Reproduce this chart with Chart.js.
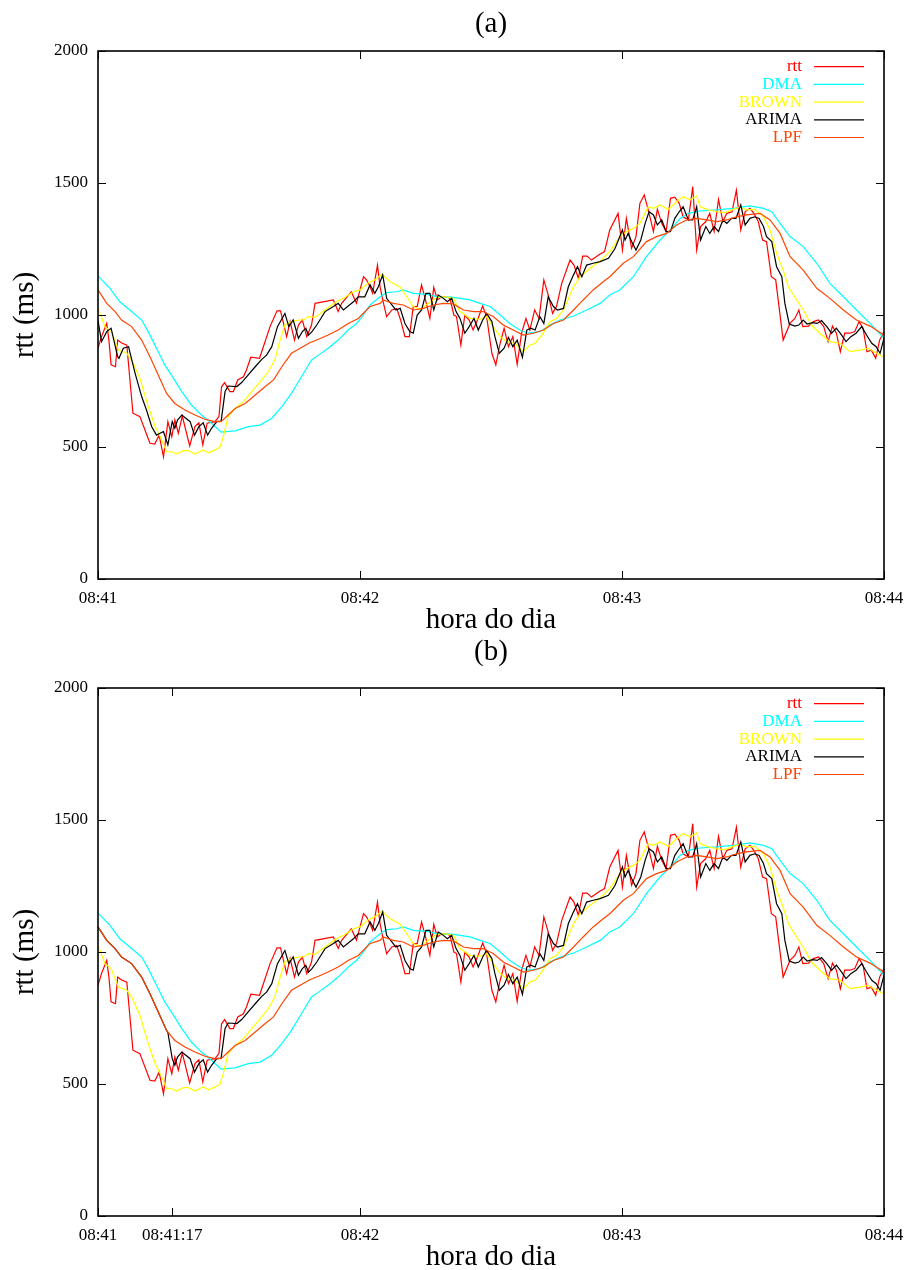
<!DOCTYPE html>
<html>
<head>
<meta charset="utf-8">
<script src="https://cdn.jsdelivr.net/npm/chart.js@4.4.1/dist/chart.umd.min.js"></script>
<style>
html, body { margin: 0; padding: 0; background: #fff; }
canvas { display: block; }
</style>
</head>
<body>
<canvas id="chartA" width="909" height="637"></canvas>
<canvas id="chartB" width="909" height="633"></canvas>
<script>
// seconds after 08:41:00 -> rtt in ms
const rttSeries = [[0,874],[0.8,918],[2,968],[2.5,905],[3,811],[4,804],[4.5,905],[5.4,894],[6.6,886],[8,628],[9.6,615],[11.9,514],[13,511],[14,545],[15,463],[16,596],[16.9,539],[17.6,602],[18.4,552],[19.3,617],[21,504],[22.2,577],[23.1,592],[24,508],[25,590],[26.8,596],[27.7,615],[28.3,728],[29,744],[30.2,710],[31,710],[32,754],[33.3,766],[34,792],[35,840],[37,836],[39.4,956],[41,1016],[41.8,1016],[43.2,918],[44,975],[45,905],[45.9,962],[46.8,981],[47.8,918],[48.9,962],[49.7,1044],[53.9,1057],[55,1013],[55.8,1044],[58,1088],[59.2,1045],[60.8,1145],[61.5,1133],[62.3,1107],[62.9,1082],[64,1189],[64.6,1107],[65.2,1057],[66.1,994],[67.3,1019],[68.4,1025],[69.3,981],[70.3,918],[71.3,918],[72.2,1032],[73.1,1032],[74.1,1114],[75,1057],[76,987],[76.9,1105],[77.7,1057],[78.7,1069],[79.7,1069],[80.6,1063],[81.5,1000],[82.1,994],[83.1,886],[84,1000],[85,981],[85.9,943],[86.9,981],[88.1,1034],[89,994],[90.2,855],[91.1,811],[92,886],[93,950],[94,880],[95,918],[96,813],[97,931],[98,987],[98.9,943],[100,1019],[101,987],[102.1,1133],[103.1,1076],[104.1,1006],[105,1032],[106.2,1120],[108.1,1208],[109,1189],[110,1139],[111,1223],[112,1223],[113,1208],[115,1231],[116,1240],[117.2,1322],[119.1,1385],[120.1,1246],[121,1366],[122.2,1253],[123.2,1297],[124.1,1423],[125.1,1455],[126.2,1385],[127.2,1316],[128.1,1400],[129.1,1347],[130.1,1316],[131.1,1442],[132.1,1446],[133.1,1423],[134,1372],[135.2,1360],[136.2,1486],[137.1,1246],[138,1335],[139.2,1354],[140.1,1385],[141.1,1316],[142.1,1438],[143.1,1354],[144,1385],[145.2,1391],[146.2,1473],[147.2,1322],[148.2,1391],[149.3,1404],[150.2,1385],[151.2,1354],[152.2,1284],[153.1,1278],[154.2,1145],[155.2,1133],[156.9,905],[158.5,969],[159.6,987],[160.5,1019],[161.4,956],[162.7,958],[163.8,975],[165,981],[166.2,956],[167.2,899],[168.2,958],[169.1,931],[170,861],[171,931],[172.2,931],[173.3,937],[174.3,975],[175.2,950],[176.1,861],[177.1,867],[178.1,836],[179,905],[180,937]];

const dmaSeries = [[0,1148],[2.75,1101],[5,1050],[7.7,1013],[10,981],[11.5,937],[13.4,874],[15.3,811],[17.3,760],[19.2,710],[21.4,659],[23.7,621],[26,590],[28.2,556],[31.4,561],[34.4,577],[37.1,583],[39.8,609],[42.1,653],[44.3,703],[46.6,766],[48.9,830],[50.5,848],[52.7,874],[55,905],[57.3,943],[59.2,968],[60.5,994],[62.3,1038],[64.6,1069],[66.1,1085],[68.4,1088],[69.9,1095],[72.2,1082],[75.3,1078],[78.3,1067],[80.6,1069],[82.9,1063],[85.2,1057],[87.5,1044],[89.8,1032],[92.1,1000],[94.3,968],[96.6,943],[98.5,931],[101.2,937],[103.5,962],[105.8,981],[108.9,996],[111.9,1019],[115,1044],[117.2,1076],[119.5,1095],[122.6,1145],[125.6,1221],[128.7,1284],[131.4,1328],[133.3,1366],[135.2,1385],[137.8,1394],[141.7,1398],[145.5,1404],[149.3,1413],[152.4,1404],[154.3,1391],[156.2,1347],[158.5,1297],[161.5,1259],[164.6,1196],[167.6,1120],[170.7,1069],[173.7,1019],[176.8,968],[180,912]];

const brownSeries = [[0,1025],[1.6,956],[3,937],[4.7,867],[6.6,855],[7.7,830],[9.6,760],[11.5,653],[13.1,577],[14.6,527],[15.7,482],[16.9,482],[18,473],[19.5,486],[20.8,486],[22.2,473],[24.1,489],[25.3,478],[26.8,489],[27.9,499],[28.7,539],[29.8,615],[31.4,646],[33.3,672],[35.2,710],[37.1,747],[39,785],[40.5,830],[41.7,905],[42.8,962],[44.4,975],[45.9,981],[47,981],[48.2,994],[49.7,991],[52,1019],[54.3,1047],[56.6,1067],[58.5,1088],[60,1095],[61.9,1122],[63.4,1133],[65,1155],[66.9,1126],[69.2,1105],[70.7,1069],[72.2,1032],[73.7,1021],[75.6,1044],[77.6,1067],[79.5,1069],[81.4,1063],[82.9,1013],[85.2,987],[87.5,984],[89,994],[90.5,956],[92.1,918],[93.6,899],[95.5,893],[97.4,861],[98.9,886],[100.1,893],[101.6,924],[103.5,975],[105,987],[106.6,1019],[108.9,1107],[110.4,1145],[112.7,1177],[115,1205],[117.2,1240],[119.5,1297],[121.1,1316],[122.6,1328],[124.1,1347],[126,1410],[127.2,1404],[128.7,1417],[130.6,1400],[132.5,1429],[134,1448],[135.6,1436],[137.1,1451],[137.9,1410],[139.8,1398],[141.7,1391],[143.6,1388],[145.5,1400],[147,1408],[148.5,1398],[150.4,1400],[152.4,1372],[153.9,1322],[155.4,1234],[156.9,1170],[158.1,1107],[160,1057],[161.5,1019],[163.4,962],[165.3,931],[167.6,899],[169.9,893],[172.2,861],[174.5,867],[176.4,874],[178.3,855],[180,840]];

const arimaSeries = [[0,980],[0.8,899],[2,937],[3,950],[4.5,842],[4.8,836],[5.8,874],[7,880],[8.5,779],[10,691],[11.1,640],[12.3,577],[13.4,545],[14.2,552],[15,558],[16,508],[17,596],[17.6,571],[18.2,602],[19.2,621],[21.1,596],[22.1,545],[23.1,577],[24.1,592],[25.1,545],[26,571],[27.2,596],[28.2,598],[29.1,710],[29.8,731],[31.8,729],[32.9,744],[34.4,773],[36,804],[37.5,832],[38.6,848],[39.8,880],[41.1,956],[42.8,1006],[43.7,956],[44.7,981],[45.9,912],[46.8,937],[47.6,950],[48.2,924],[49,937],[50.1,962],[52,1013],[53.9,1032],[55,1044],[56.2,1019],[58.5,1050],[59.6,1069],[61.1,1069],[62.3,1114],[63.4,1082],[64.2,1107],[65.2,1152],[66.1,1063],[67.3,1038],[68.2,1019],[69.2,1025],[70.3,968],[71.4,937],[72.2,931],[73.1,1000],[74.1,1019],[75.1,1082],[76,1082],[76.9,1019],[77.9,1076],[79.1,1063],[80,1050],[81,1063],[82,1013],[82.9,987],[84,931],[85,956],[86.1,987],[87.1,943],[88.1,981],[89,1006],[90.2,975],[90.9,918],[91.9,855],[93,874],[94,915],[95,880],[96,905],[97.2,840],[98.2,943],[99.1,950],[100.1,943],[101.2,994],[102.1,968],[103.1,1069],[104.3,1032],[105.2,1019],[106.6,1025],[107.7,1107],[108.9,1152],[109.8,1183],[110.8,1145],[111.9,1189],[113.4,1196],[115,1202],[116.9,1215],[118.4,1252],[120.1,1322],[120.7,1284],[121.4,1309],[122.2,1278],[123.2,1246],[124.3,1284],[125.3,1347],[126.2,1391],[127.2,1379],[128.1,1341],[129.1,1360],[130.1,1316],[131.1,1316],[132.1,1366],[133.1,1391],[134,1410],[135.2,1360],[136.2,1360],[137.1,1410],[138,1284],[139.2,1335],[140.1,1309],[141.1,1335],[142.1,1316],[143.1,1360],[144,1347],[145.1,1366],[146.1,1366],[147.2,1417],[148.2,1341],[149.3,1366],[150.4,1372],[151.4,1366],[152.4,1335],[153.1,1297],[154.3,1278],[155.4,1183],[156.6,1145],[157.3,1044],[158.3,966],[159.6,958],[160.5,962],[161.5,981],[162.4,966],[163.7,971],[164.7,968],[165.7,979],[166.9,956],[168,931],[169.1,950],[170.3,924],[171.3,899],[172.4,918],[173.6,931],[174.9,956],[176,924],[177.2,893],[178.2,880],[179.1,855],[180,912]];

const lpfSeries = [[0,1095],[2,1044],[3.9,1013],[5.4,981],[7.7,956],[10,905],[11.9,842],[13.8,773],[15.7,703],[17.6,665],[19.9,640],[22.2,621],[24.5,605],[26.8,596],[28.2,596],[29.8,621],[31.4,646],[33.7,665],[36,697],[38.3,729],[40.2,754],[42.1,804],[44.3,855],[46.6,877],[48.5,895],[50.5,908],[52.7,924],[55,943],[57.3,968],[59.6,987],[62.3,1032],[64.6,1044],[65.3,1057],[67.6,1044],[69.9,1038],[72.2,1019],[74.5,1025],[76.8,1038],[79.1,1044],[81.4,1042],[83.7,1019],[86,1013],[88.2,1013],[90.5,994],[92.8,962],[95.1,943],[97.4,924],[99.7,931],[102,943],[104.3,968],[106.6,981],[108.9,1019],[111.1,1057],[113.4,1095],[115.7,1126],[117.2,1145],[120.3,1196],[122.6,1221],[125.6,1278],[127.9,1297],[130.2,1309],[132.5,1341],[134.8,1360],[137.1,1366],[139.4,1360],[141.7,1354],[144,1360],[146.2,1372],[148.5,1379],[151.6,1385],[153.9,1360],[156.2,1309],[158.5,1221],[161.5,1170],[164.6,1101],[167.6,1063],[170.7,1019],[173.7,981],[176.8,958],[180,924]];

// in (b) ARIMA only starts predicting at 08:41:17; before that it sits on the LPF curve
const arimaWarmupB = [[0,1095],[2,1044],[3.9,1013],[5.4,981],[7.7,956],[10,905],[11.9,842],[13.8,773],[15.7,703],[16,695]];

const seriesNames = ['rtt', 'DMA', 'BROWN', 'ARIMA', 'LPF'];
const seriesColors = ['#ff0000', '#00ffff', '#ffff00', '#000000', '#ff4500'];

const yTicks = [0, 500, 1000, 1500, 2000];
const xTicksA = [0, 60, 120, 180];
const xLabelsA = ['08:41', '08:42', '08:43', '08:44'];
const xTicksB = [0, 17, 60, 120, 180];
const xLabelsB = ['08:41', '08:41:17', '08:42', '08:43', '08:44'];

const SERIF = "'Liberation Serif', 'Times New Roman', serif";

const toXY = pairs => pairs.map(p => ({ x: p[0], y: p[1] }));

// gnuplot-like frame: border, inward ticks on all sides, key, titles
const framePlugin = {
  id: 'frame',
  afterDatasetsDraw(chart, args, opts) {
    const { ctx, chartArea: a, scales: { x, y } } = chart;
    ctx.save();
    ctx.strokeStyle = '#000';
    ctx.lineWidth = 1;
    ctx.beginPath();
    x.ticks.forEach(t => {
      const px = Math.round(x.getPixelForValue(t.value)) + 0.5;
      ctx.moveTo(px, a.bottom); ctx.lineTo(px, a.bottom - 8);
      ctx.moveTo(px, a.top); ctx.lineTo(px, a.top + 8);
    });
    y.ticks.forEach(t => {
      const py = Math.round(y.getPixelForValue(t.value)) + 0.5;
      ctx.moveTo(a.left, py); ctx.lineTo(a.left + 8, py);
      ctx.moveTo(a.right, py); ctx.lineTo(a.right - 8, py);
    });
    ctx.stroke();
    ctx.lineWidth = 1.6;
    ctx.strokeRect(a.left, a.top, a.right - a.left, a.bottom - a.top);

    // key, top right
    ctx.font = '17px ' + SERIF;
    ctx.textAlign = 'right';
    ctx.textBaseline = 'middle';
    chart.data.datasets.forEach((ds, i) => {
      const ky = a.top + 15.7 + i * 17.7;
      ctx.fillStyle = ds.borderColor;
      ctx.fillText(ds.label, a.right - 82, ky);
      ctx.strokeStyle = ds.borderColor;
      ctx.lineWidth = 1.2;
      ctx.beginPath();
      ctx.moveTo(a.right - 70, ky); ctx.lineTo(a.right - 20, ky);
      ctx.stroke();
    });

    const cx = (a.left + a.right) / 2;
    ctx.fillStyle = '#000';
    ctx.font = '29px ' + SERIF;
    ctx.textAlign = 'center';
    ctx.textBaseline = 'middle';
    ctx.fillText(opts.title, cx, opts.titleY);
    ctx.textBaseline = 'alphabetic';
    ctx.fillText('hora do dia', cx, 628);
    ctx.translate(33, (a.top + a.bottom) / 2);
    ctx.rotate(-Math.PI / 2);
    ctx.fillText('rtt (ms)', 0, 0);
    ctx.restore();
  }
};

function makePanel(id, title, titleY, arimaPairs, xTicks, xLabels) {
  const pairs = [rttSeries, dmaSeries, brownSeries, arimaPairs, lpfSeries];
  const canvas = document.getElementById(id);
  const H = canvas.height;
  return new Chart(canvas, {
    type: 'line',
    data: {
      datasets: pairs.map((p, i) => ({
        label: seriesNames[i],
        data: toXY(p),
        borderColor: seriesColors[i],
        backgroundColor: seriesColors[i],
        borderWidth: 1.2,
        pointRadius: 0,
        tension: 0,
        fill: false,
        order: pairs.length - 1 - i
      }))
    },
    options: {
      responsive: false,
      animation: false,
      events: [],
      layout: { padding: { top: 51, right: 25, left: 0, bottom: 0 } },
      plugins: {
        legend: { display: false },
        tooltip: { enabled: false },
        frame: { title, titleY }
      },
      scales: {
        x: {
          type: 'linear',
          min: 0,
          max: 180,
          afterBuildTicks: s => { s.ticks = xTicks.map(v => ({ value: v })); },
          afterFit: s => { s.height = H - 579; },
          grid: { display: false },
          border: { display: false },
          ticks: {
            autoSkip: false,
            maxRotation: 0,
            minRotation: 0,
            padding: 1,
            color: '#000',
            font: { family: SERIF, size: 17 },
            callback: v => xLabels[xTicks.indexOf(v)]
          }
        },
        y: {
          min: 0,
          max: 2000,
          afterBuildTicks: s => { s.ticks = yTicks.map(v => ({ value: v })); },
          afterFit: s => { s.width = 98; },
          grid: { display: false },
          border: { display: false },
          ticks: {
            padding: 2,
            color: '#000',
            font: { family: SERIF, size: 17 },
            callback: v => String(v)
          }
        }
      }
    },
    plugins: [framePlugin]
  });
}

const arimaB = arimaWarmupB.concat(arimaSeries.filter(p => p[0] >= 17));

makePanel('chartA', '(a)', 24, arimaSeries, xTicksA, xLabelsA);
makePanel('chartB', '(b)', 15.5, arimaB, xTicksB, xLabelsB);
</script>
</body>
</html>
